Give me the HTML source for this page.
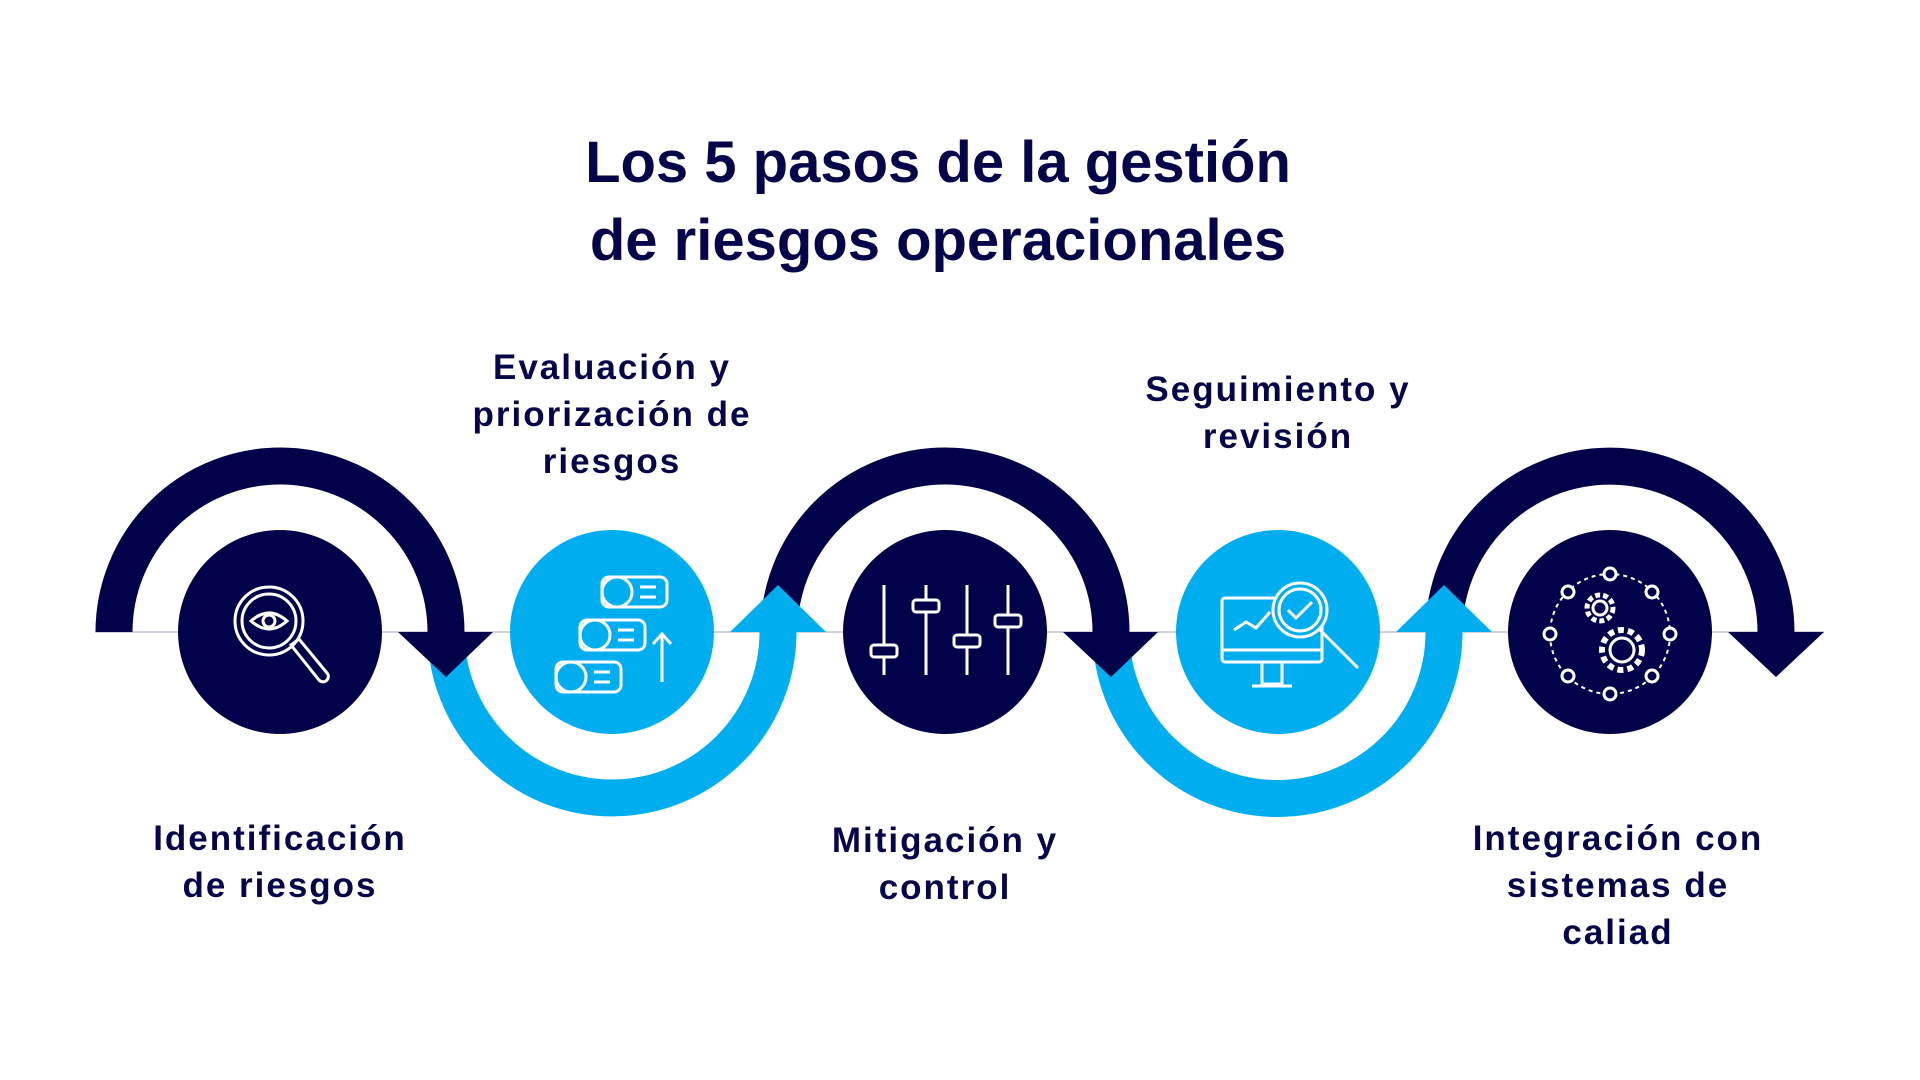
<!DOCTYPE html>
<html><head><meta charset="utf-8"><style>
html,body{margin:0;padding:0;background:#fff;}
body{width:1920px;height:1080px;position:relative;overflow:hidden;font-family:"Liberation Sans",sans-serif;color:#05054a;}
.t{position:absolute;left:0;width:1876px;text-align:center;font-weight:bold;font-size:58px;line-height:78px;top:124px;}
.l{position:absolute;width:440px;text-align:center;font-weight:bold;font-size:35px;line-height:47px;letter-spacing:2px;}
</style></head><body>
<svg width="1920" height="1080" style="position:absolute;left:0;top:0">
<line x1="95" y1="632" x2="1824" y2="632" stroke="#cfd3e0" stroke-width="2"/>
<g fill="none" stroke-width="37">
<path d="M114 632 A166 166 0 0 1 446 632" stroke="#02024a"/>
<path d="M446 632 A166 166 0 0 0 778 632" stroke="#00aeef"/>
<path d="M779 632 A166 166 0 0 1 1111 632" stroke="#02024a"/>
<path d="M1111 632 A166 166 0 0 0 1444 632" stroke="#00aeef"/>
<path d="M1444 632 A166 166 0 0 1 1776 632" stroke="#02024a"/>
</g>
<polygon points="398,632 493,632 446,677" fill="#02024a"/>
<polygon points="730,632 826,632 778,585" fill="#00aeef"/>
<polygon points="1063,632 1158,632 1111,677" fill="#02024a"/>
<polygon points="1396,632 1492,632 1444,585" fill="#00aeef"/>
<polygon points="1728,632 1824,632 1776,677" fill="#02024a"/>
<circle cx="280" cy="632" r="102" fill="#02024a"/>
<circle cx="612" cy="632" r="102" fill="#00aeef"/>
<circle cx="945" cy="632" r="102" fill="#02024a"/>
<circle cx="1278" cy="632" r="102" fill="#00aeef"/>
<circle cx="1610" cy="632" r="102" fill="#02024a"/>
<g fill="none" stroke="#fff" stroke-width="3">
<circle cx="269" cy="621" r="34"/><circle cx="269" cy="621" r="27"/>
<path d="M251 621 Q269 605 287 621 Q269 637 251 621Z"/><circle cx="269" cy="621" r="6"/>
<path d="M291 645 l8 -6 l28 34 a5 5 0 0 1 -8 7z"/>
<rect x="602" y="577" width="65" height="30" rx="7"/><circle cx="617" cy="592" r="15"/>
<rect x="580" y="620" width="65" height="30" rx="7"/><circle cx="595" cy="635" r="15"/>
<rect x="556" y="662" width="65" height="30" rx="7"/><circle cx="571" cy="677" r="15"/>
<path d="M640 587h16M640 597h16M618 630h16M618 640h16M594 672h16M594 682h16"/>
<path d="M662 682v-48M653 644l9 -10 9 10"/>
<path d="M884 585v90M926 585v90M967 585v90M1008 585v90"/>
<rect x="871" y="645" width="26" height="12" rx="3" fill="#02024a"/>
<rect x="913" y="600" width="26" height="12" rx="3" fill="#02024a"/>
<rect x="954" y="635" width="26" height="12" rx="3" fill="#02024a"/>
<rect x="995" y="615" width="26" height="12" rx="3" fill="#02024a"/>
<rect x="1222" y="598" width="100" height="64" rx="3"/><path d="M1222 650h100M1262 662v22h20v-22M1252 686h40"/>
<path d="M1234 630l12 -8 10 6 14 -16"/>
<circle cx="1300" cy="610" r="27" fill="#00aeef"/><circle cx="1300" cy="610" r="21"/><path d="M1288 610l8 8 16 -16M1320 630l38 38"/>
<circle cx="1610" cy="634" r="60" stroke-dasharray="4 4" stroke-width="2"/>
<g fill="#02024a"><circle cx="1610" cy="574" r="6"/><circle cx="1652" cy="592" r="6"/><circle cx="1670" cy="634" r="6"/><circle cx="1652" cy="676" r="6"/><circle cx="1610" cy="694" r="6"/><circle cx="1568" cy="676" r="6"/><circle cx="1550" cy="634" r="6"/><circle cx="1568" cy="592" r="6"/></g>
<circle cx="1600" cy="608" r="13" stroke-dasharray="5 3" stroke-width="5"/><circle cx="1600" cy="608" r="7"/>
<circle cx="1622" cy="650" r="20" stroke-dasharray="6 4" stroke-width="6"/><circle cx="1622" cy="650" r="12"/>
</g>
</svg>
<div class="t">Los 5 pasos de la gestión<br>de riesgos operacionales</div>
<div class="l" style="left:60px;top:815px">Identificación<br>de riesgos</div>
<div class="l" style="left:392px;top:344px">Evaluación y<br>priorización de<br>riesgos</div>
<div class="l" style="left:725px;top:817px">Mitigación y<br>control</div>
<div class="l" style="left:1058px;top:366px">Seguimiento y<br>revisión</div>
<div class="l" style="left:1398px;top:815px">Integración con<br>sistemas de<br>caliad</div>
</body></html>
